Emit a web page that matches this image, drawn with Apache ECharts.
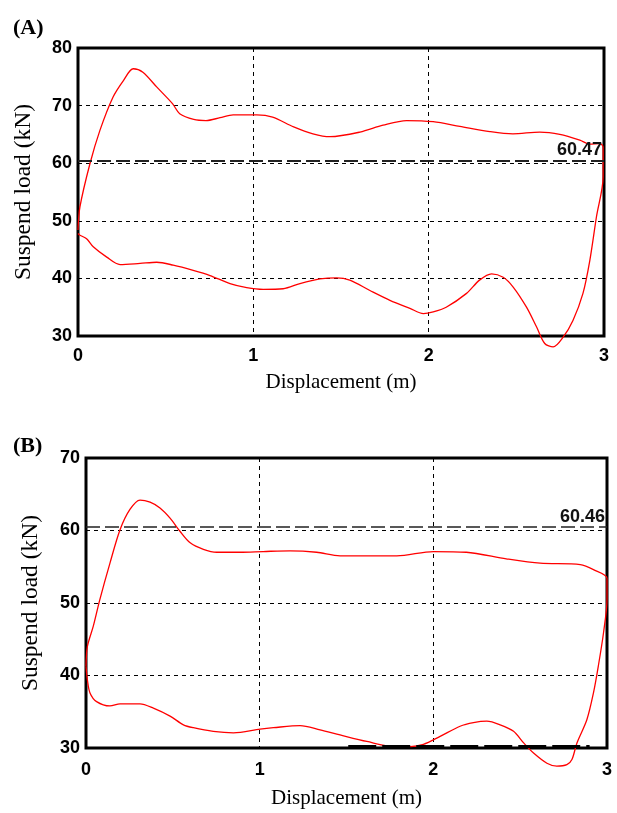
<!DOCTYPE html>
<html lang="en">
<head>
    <meta charset="UTF-8">
    <title>Suspend load vs displacement</title>
    <style>
        * {
            padding: 0;
            margin: 0;
        }

        .EC {
            width: 617px;
            height: 813px;
            background: #fff;
        }
    </style>
    <script src="https://cdn.jsdelivr.net/npm/echarts@6/dist/echarts.min.js"></script>
</head>
<body>
<div class="EC"></div>
<script>
    // (A) loop: upper branch 0 -> 3, down the right side, lower branch back to 0
    const loopA = [
        [0, 48.4], [0.011, 52.4], [0.068, 59.9], [0.125, 65.7], [0.2, 71.5], [0.26, 74.4],
        [0.315, 76.4], [0.37, 75.8], [0.45, 73.2], [0.54, 70.3], [0.58, 68.6], [0.66, 67.6],
        [0.73, 67.4], [0.81, 67.9], [0.885, 68.4], [1.02, 68.4], [1.11, 68.0], [1.23, 66.3],
        [1.34, 65.1], [1.437, 64.6], [1.608, 65.4], [1.74, 66.6], [1.874, 67.4], [2.026, 67.2],
        [2.178, 66.4], [2.349, 65.5], [2.48, 65.1], [2.634, 65.4], [2.748, 65.0], [2.862, 64.0],
        [2.919, 63.3], [2.976, 63.4], [2.995, 62.8], [2.995, 57.6], [2.957, 50.7], [2.919, 43.1],
        [2.88, 37.4], [2.823, 32.7], [2.767, 29.8], [2.71, 28.1], [2.662, 28.7], [2.615, 31.6],
        [2.558, 35.0], [2.482, 38.5], [2.425, 40.2], [2.359, 40.8], [2.29, 39.7], [2.216, 37.4],
        [2.1, 35.0], [2.026, 34.2], [1.97, 33.9], [1.893, 34.8], [1.779, 36.2], [1.665, 37.9],
        [1.55, 39.7], [1.475, 40.1], [1.38, 39.9], [1.266, 39.1], [1.17, 38.2], [1.057, 38.1],
        [0.962, 38.4], [0.867, 39.1], [0.753, 40.5], [0.657, 41.4], [0.543, 42.3], [0.449, 42.8],
        [0.354, 42.6], [0.24, 42.4], [0.164, 43.7], [0.087, 45.5], [0.049, 46.9], [0.011, 47.5],
        [0, 47.8]
    ]

    // (B) loop
    const loopB = [
        [0, 41.3], [0.008, 44.0], [0.042, 46.8], [0.08, 50.5], [0.138, 55.5], [0.196, 60.1],
        [0.253, 62.9], [0.311, 64.2], [0.369, 63.9], [0.426, 63.1], [0.484, 61.7], [0.541, 59.9],
        [0.6, 58.3], [0.676, 57.4], [0.753, 57.0], [0.886, 57.0], [1.02, 57.1], [1.175, 57.2],
        [1.328, 57.0], [1.463, 56.5], [1.79, 56.5], [2.0, 57.1], [2.19, 57.0], [2.42, 56.1],
        [2.615, 55.5], [2.846, 55.3], [2.922, 54.6], [3.0, 53.4], [3.0, 50.5], [2.98, 45.9],
        [2.95, 41.3], [2.922, 37.6], [2.884, 33.9], [2.827, 30.7], [2.798, 28.4], [2.769, 27.7],
        [2.711, 27.5], [2.654, 27.9], [2.577, 29.3], [2.52, 30.7], [2.462, 32.3], [2.385, 33.2],
        [2.308, 33.7], [2.231, 33.5], [2.154, 33.0], [2.039, 31.6], [1.943, 30.5], [1.866, 30.2],
        [1.77, 30.2], [1.617, 30.9], [1.463, 31.8], [1.348, 32.5], [1.233, 33.1], [1.079, 32.8],
        [1.002, 32.6], [0.849, 32.1], [0.733, 32.3], [0.618, 32.8], [0.561, 33.2], [0.484, 34.4],
        [0.388, 35.5], [0.311, 36.1], [0.196, 36.1], [0.138, 35.8], [0.061, 36.4], [0.023, 37.6],
        [0.008, 39.4], [0, 41.3]
    ]

    const limitA = 60.47
    const limitB = 60.46
    // thick dashed trace lying on the floor of (B)
    const floorB = [[1.51, 30.2], [2.9, 30.2]]

    const xRange = [0, 3]
    const yRangeA = [30, 80]
    const yRangeB = [30, 70]

    window.onload = () => {
        let EC = echarts.init(document.querySelector('.EC'), null, {renderer: 'canvas'})

        const tickFont = {
            color: '#000',
            fontFamily: 'Liberation Sans',
            fontWeight: 'bold',
            fontSize: 18
        }
        const nameFont = {
            color: '#000',
            fontFamily: 'Liberation Serif',
            fontSize: 21
        }
        const dashed = {
            show: true,
            lineStyle: {color: '#000', width: 1, type: [4, 4]}
        }

        function xAxis(idx, labelMargin, nameGap) {
            return {
                type: 'value',
                gridIndex: idx,
                min: xRange[0],
                max: xRange[1],
                interval: 1,
                name: 'Displacement (m)',
                nameLocation: 'middle',
                nameGap: nameGap,
                nameTextStyle: nameFont,
                axisLine: {show: false},
                axisTick: {show: false},
                axisLabel: Object.assign({margin: labelMargin}, tickFont),
                splitLine: dashed
            }
        }

        function yAxis(idx, range, nameGap) {
            return {
                type: 'value',
                gridIndex: idx,
                min: range[0],
                max: range[1],
                interval: 10,
                name: 'Suspend load (kN)',
                nameLocation: 'middle',
                nameGap: nameGap,
                nameTextStyle: Object.assign({}, nameFont, {fontSize: 23.5}),
                axisLine: {show: false},
                axisTick: {show: false},
                axisLabel: Object.assign({margin: 6}, tickFont),
                splitLine: dashed
            }
        }

        function limitLine(value, width) {
            return {
                silent: true,
                symbol: 'none',
                lineStyle: {color: '#222', width: width, type: [14, 5]},
                label: {
                    show: true,
                    position: 'insideEndTop',
                    distance: [2, 1],
                    formatter: value.toFixed(2),
                    color: '#111',
                    fontFamily: 'Liberation Sans',
                    fontWeight: 'bold',
                    fontSize: 18
                },
                data: [{yAxis: value}]
            }
        }

        let option = {
            backgroundColor: '#fff',
            animation: false,
            title: [
                {
                    text: '(A)',
                    left: 8,
                    top: 12,
                    textStyle: {fontFamily: 'Liberation Serif', fontWeight: 'bold', fontSize: 22, color: '#000'}
                },
                {
                    text: '(B)',
                    left: 8,
                    top: 430,
                    textStyle: {fontFamily: 'Liberation Serif', fontWeight: 'bold', fontSize: 22, color: '#000'}
                }
            ],
            grid: [
                {left: 78, top: 48, width: 526, height: 288, show: true, borderColor: '#000', borderWidth: 3},
                {left: 86, top: 458, width: 521, height: 290, show: true, borderColor: '#000', borderWidth: 3}
            ],
            xAxis: [xAxis(0, 11, 36), xAxis(1, 13, 40)],
            yAxis: [yAxis(0, yRangeA, 42), yAxis(1, yRangeB, 43)],
            series: [
                {
                    name: 'A',
                    type: 'line',
                    xAxisIndex: 0,
                    yAxisIndex: 0,
                    data: loopA,
                    showSymbol: false,
                    smooth: 0.3,
                    clip: false,
                    lineStyle: {color: '#ff0000', width: 1.3},
                    markLine: limitLine(limitA, 2)
                },
                {
                    name: 'B',
                    type: 'line',
                    xAxisIndex: 1,
                    yAxisIndex: 1,
                    data: loopB,
                    showSymbol: false,
                    smooth: 0.3,
                    clip: false,
                    lineStyle: {color: '#ff0000', width: 1.3},
                    markLine: limitLine(limitB, 1.5)
                },
                {
                    name: 'B floor',
                    type: 'line',
                    xAxisIndex: 1,
                    yAxisIndex: 1,
                    data: floorB,
                    showSymbol: false,
                    silent: true,
                    lineStyle: {color: '#000', width: 3, type: [28, 6]}
                }
            ]
        }
        EC.setOption(option)
    }
</script>
</body>
</html>
